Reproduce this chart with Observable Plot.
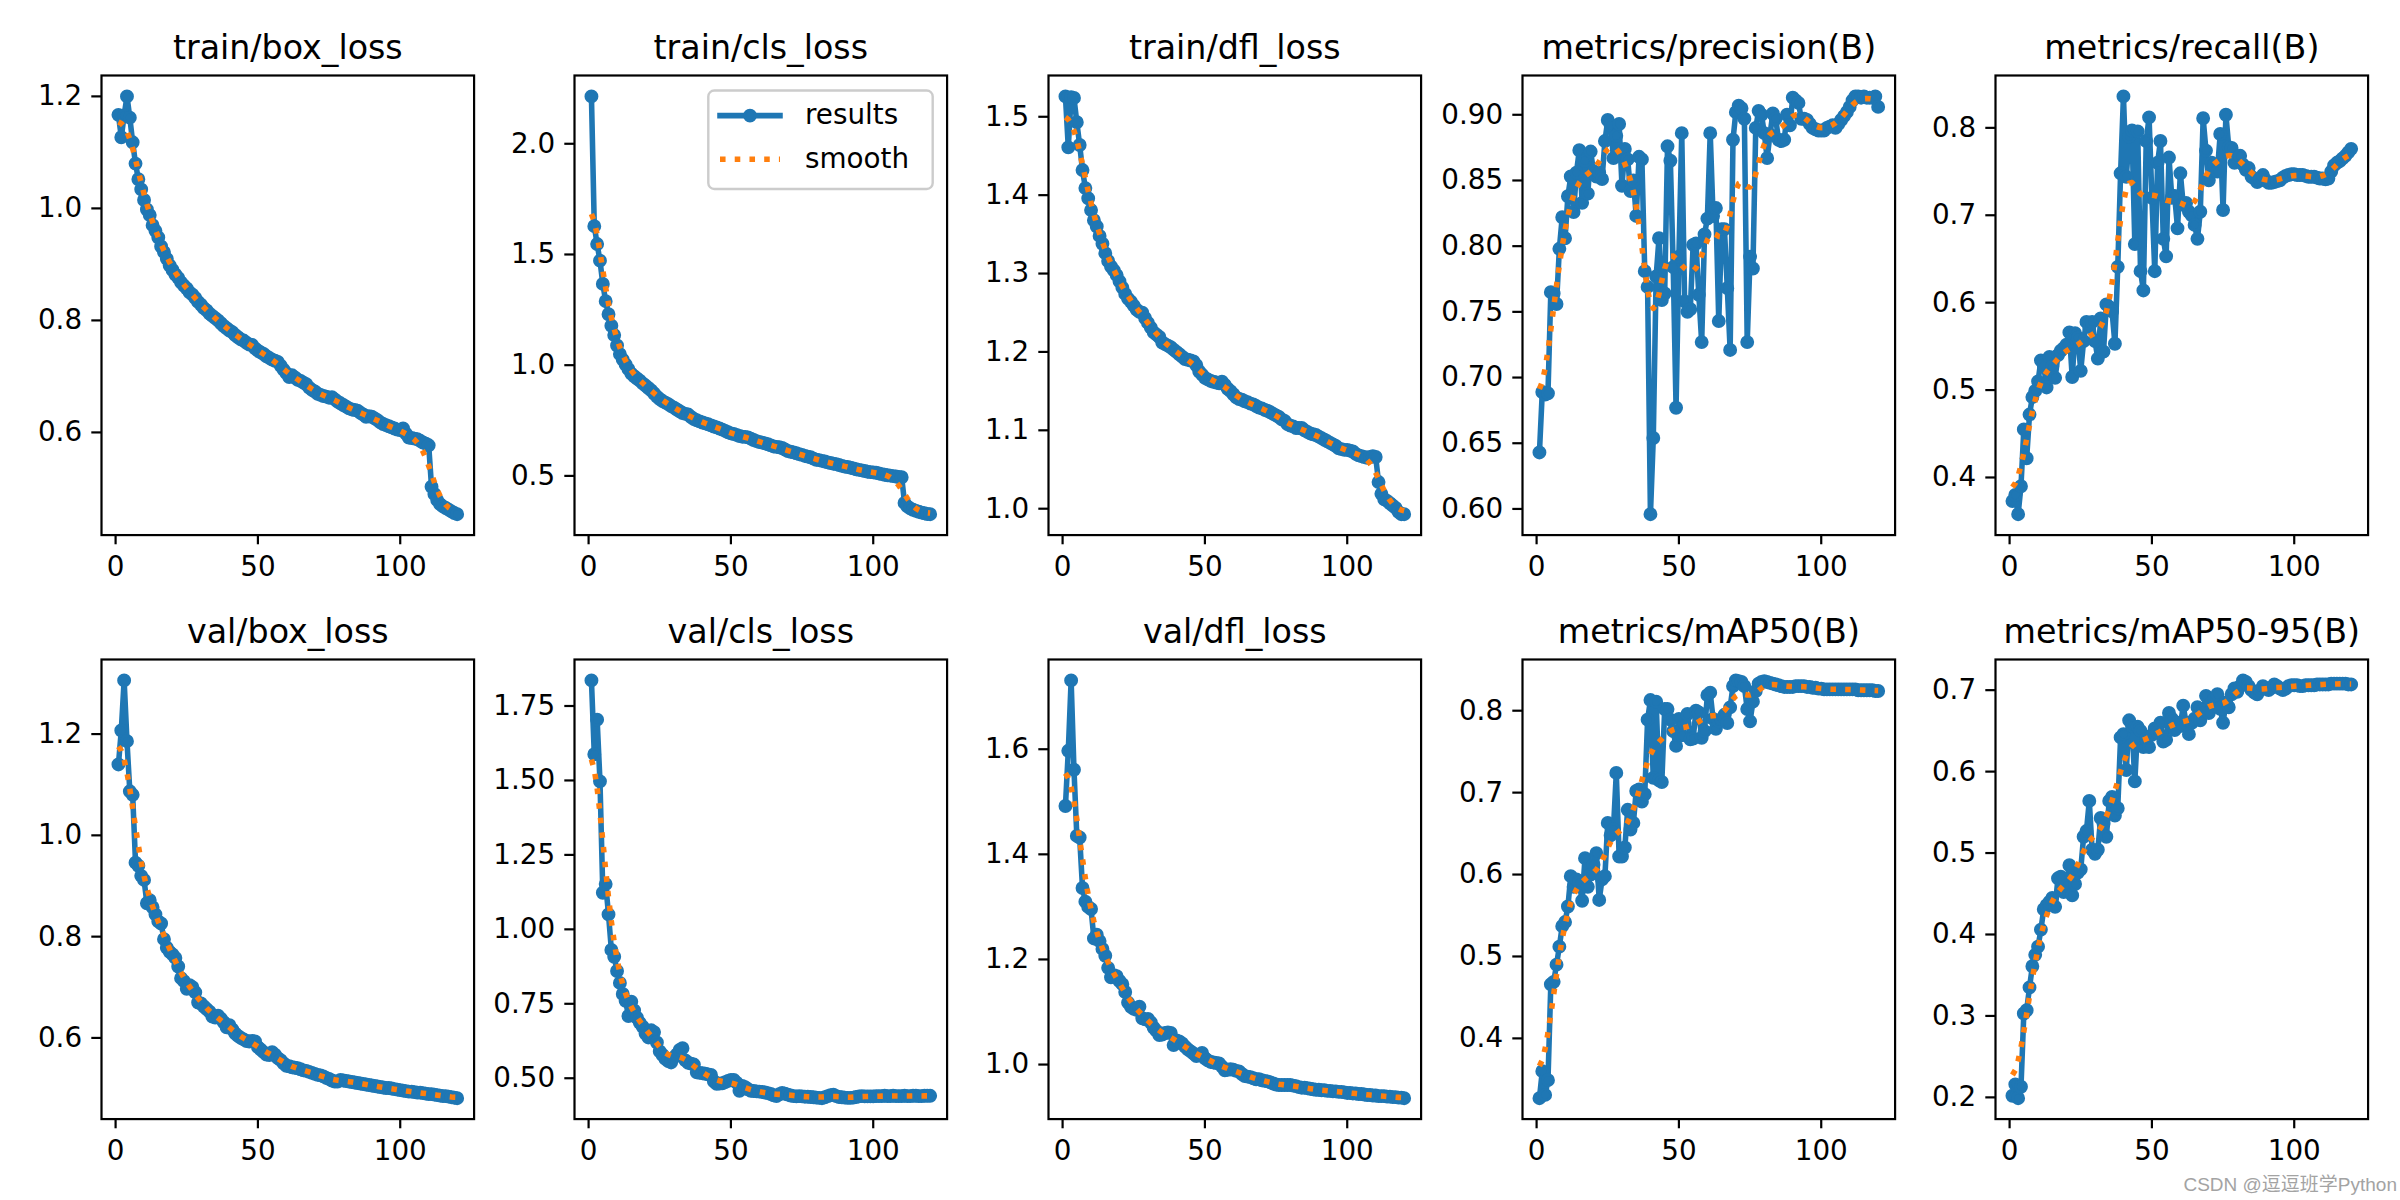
<!DOCTYPE html>
<html>
<head>
<meta charset="utf-8">
<script src="https://cdn.jsdelivr.net/npm/d3@7"></script>
<script src="https://cdn.jsdelivr.net/npm/@observablehq/plot@0.6"></script>
<style>
  html, body { margin: 0; padding: 0; background: #fff; }
  #fig { position: relative; width: 2400px; height: 1200px; overflow: hidden; background: #fff; font-family: "DejaVu Sans", sans-serif; }
  #fig svg { position: absolute; max-width: none; }
  #watermark { position: absolute; right: 3px; top: 1169px; font-family: "Liberation Sans", "Noto Sans CJK SC", sans-serif; font-size: 19px; color: #a3a3a3; white-space: nowrap; }
</style>
</head>
<body>
<div id="fig"></div>
<script>
// ---------------- data ----------------
const epochs = d3.range(1, 121);
const xTicks = [0, 50, 100];

const titles = ["train/box_loss", "train/cls_loss", "train/dfl_loss", "metrics/precision(B)", "metrics/recall(B)",
                "val/box_loss", "val/cls_loss", "val/dfl_loss", "metrics/mAP50(B)", "metrics/mAP50-95(B)"];

const trainBoxLoss = [
  1.167,1.127,1.166,1.200,1.162,1.118,1.080,1.052,1.034,1.015,
  0.998,0.988,0.970,0.960,0.948,0.932,0.922,0.910,0.898,0.890,
  0.882,0.876,0.868,0.862,0.857,0.850,0.846,0.840,0.833,0.828,
  0.822,0.818,0.812,0.808,0.804,0.800,0.795,0.790,0.786,0.782,
  0.779,0.774,0.770,0.766,0.764,0.760,0.757,0.756,0.750,0.746,
  0.743,0.740,0.736,0.733,0.730,0.728,0.726,0.719,0.712,0.706,
  0.699,0.702,0.698,0.694,0.692,0.689,0.686,0.680,0.676,0.673,
  0.669,0.667,0.665,0.664,0.662,0.663,0.659,0.655,0.652,0.649,
  0.646,0.643,0.641,0.640,0.639,0.635,0.632,0.628,0.629,0.628,
  0.625,0.622,0.618,0.615,0.613,0.611,0.609,0.607,0.605,0.604,
  0.607,0.598,0.591,0.590,0.589,0.588,0.585,0.582,0.580,0.577,
  0.503,0.490,0.479,0.472,0.468,0.465,0.462,0.459,0.456,0.454];

const trainClsLoss = [
  2.214,1.628,1.547,1.472,1.367,1.289,1.230,1.178,1.136,1.089,
  1.050,1.025,1.003,0.982,0.962,0.950,0.940,0.930,0.918,0.908,
  0.897,0.886,0.872,0.858,0.847,0.838,0.831,0.824,0.815,0.808,
  0.800,0.792,0.784,0.780,0.777,0.766,0.757,0.751,0.746,0.741,
  0.737,0.733,0.728,0.723,0.719,0.714,0.709,0.703,0.697,0.692,
  0.689,0.685,0.680,0.677,0.676,0.674,0.668,0.662,0.657,0.653,
  0.650,0.647,0.643,0.638,0.633,0.631,0.629,0.626,0.619,0.612,
  0.609,0.606,0.602,0.598,0.595,0.590,0.587,0.584,0.578,0.573,
  0.571,0.568,0.565,0.561,0.558,0.555,0.553,0.549,0.545,0.542,
  0.540,0.537,0.534,0.530,0.527,0.525,0.522,0.519,0.517,0.516,
  0.514,0.511,0.508,0.505,0.503,0.501,0.499,0.497,0.495,0.494,
  0.378,0.362,0.353,0.347,0.342,0.338,0.334,0.331,0.328,0.327];

const trainDflLoss = [
  1.526,1.461,1.525,1.524,1.493,1.464,1.432,1.409,1.396,1.381,
  1.368,1.360,1.348,1.338,1.326,1.316,1.309,1.304,1.298,1.290,
  1.282,1.274,1.268,1.264,1.259,1.254,1.251,1.250,1.243,1.237,
  1.231,1.225,1.222,1.219,1.212,1.210,1.208,1.206,1.203,1.200,
  1.197,1.194,1.191,1.190,1.189,1.188,1.183,1.175,1.171,1.167,
  1.165,1.163,1.162,1.161,1.160,1.162,1.158,1.153,1.150,1.146,
  1.142,1.140,1.139,1.137,1.136,1.134,1.133,1.131,1.129,1.128,
  1.126,1.125,1.123,1.121,1.119,1.117,1.114,1.112,1.108,1.106,
  1.105,1.103,1.103,1.103,1.100,1.098,1.096,1.095,1.094,1.092,
  1.090,1.088,1.086,1.084,1.082,1.080,1.077,1.076,1.075,1.075,
  1.074,1.073,1.070,1.068,1.067,1.066,1.065,1.066,1.067,1.066,
  1.034,1.019,1.012,1.010,1.007,1.004,1.001,0.996,0.993,0.993];

const precision = [
  0.643,0.689,0.687,0.688,0.765,0.764,0.756,0.798,0.822,0.806,
  0.838,0.853,0.826,0.856,0.873,0.833,0.865,0.840,0.872,0.857,
  0.853,0.856,0.851,0.880,0.896,0.892,0.867,0.884,0.893,0.846,
  0.874,0.866,0.842,0.850,0.823,0.868,0.866,0.781,0.769,0.596,
  0.654,0.777,0.806,0.759,0.764,0.876,0.865,0.784,0.677,0.792,
  0.886,0.758,0.750,0.752,0.801,0.802,0.763,0.727,0.809,0.821,
  0.886,0.823,0.829,0.743,0.813,0.813,0.768,0.721,0.881,0.902,
  0.907,0.905,0.897,0.727,0.792,0.783,0.890,0.903,0.900,0.886,
  0.867,0.885,0.901,0.897,0.881,0.880,0.881,0.900,0.892,0.913,
  0.911,0.909,0.897,0.897,0.896,0.893,0.890,0.889,0.888,0.888,
  0.888,0.890,0.891,0.892,0.890,0.893,0.896,0.899,0.902,0.906,
  0.911,0.914,0.914,0.913,0.914,0.913,0.913,0.913,0.914,0.906];

const recall = [
  0.373,0.380,0.358,0.390,0.455,0.422,0.472,0.492,0.499,0.510,
  0.534,0.528,0.503,0.538,0.527,0.514,0.540,0.545,0.548,0.552,
  0.566,0.515,0.565,0.560,0.522,0.556,0.578,0.572,0.578,0.556,
  0.536,0.582,0.544,0.598,0.595,0.590,0.553,0.641,0.748,0.836,
  0.744,0.790,0.797,0.667,0.796,0.636,0.614,0.785,0.812,0.720,
  0.636,0.760,0.785,0.673,0.653,0.766,0.720,0.722,0.685,0.748,
  0.712,0.714,0.704,0.700,0.689,0.673,0.704,0.811,0.774,0.740,
  0.760,0.758,0.750,0.793,0.706,0.815,0.778,0.777,0.760,0.766,
  0.768,0.758,0.752,0.754,0.744,0.742,0.738,0.740,0.746,0.740,
  0.737,0.737,0.738,0.739,0.740,0.743,0.745,0.746,0.747,0.747,
  0.746,0.746,0.746,0.745,0.744,0.744,0.744,0.743,0.742,0.742,
  0.741,0.742,0.750,0.757,0.760,0.762,0.765,0.768,0.772,0.776];

const valBoxLoss = [
  1.140,1.207,1.306,1.186,1.087,1.080,0.946,0.940,0.920,0.912,
  0.866,0.872,0.858,0.844,0.830,0.826,0.795,0.778,0.770,0.765,
  0.758,0.741,0.718,0.712,0.697,0.704,0.700,0.690,0.670,0.668,
  0.662,0.657,0.652,0.642,0.640,0.644,0.638,0.631,0.621,0.625,
  0.617,0.609,0.604,0.600,0.597,0.594,0.593,0.594,0.593,0.582,
  0.577,0.572,0.567,0.566,0.572,0.567,0.560,0.556,0.550,0.545,
  0.544,0.542,0.541,0.540,0.538,0.536,0.535,0.533,0.531,0.529,
  0.527,0.526,0.524,0.521,0.519,0.516,0.514,0.514,0.517,0.516,
  0.515,0.514,0.513,0.512,0.511,0.510,0.509,0.508,0.507,0.506,
  0.505,0.504,0.503,0.502,0.501,0.501,0.500,0.499,0.498,0.497,
  0.496,0.495,0.494,0.494,0.493,0.492,0.492,0.491,0.490,0.489,
  0.489,0.488,0.487,0.486,0.485,0.485,0.484,0.483,0.482,0.481];

const valClsLoss = [
  1.836,1.588,1.704,1.497,1.123,1.152,1.050,0.931,0.908,0.860,
  0.820,0.783,0.760,0.709,0.757,0.728,0.703,0.686,0.673,0.650,
  0.637,0.661,0.655,0.620,0.590,0.578,0.565,0.558,0.553,0.570,
  0.580,0.595,0.601,0.560,0.552,0.549,0.546,0.520,0.518,0.517,
  0.515,0.513,0.511,0.490,0.481,0.482,0.483,0.487,0.491,0.494,
  0.494,0.485,0.458,0.474,0.470,0.463,0.458,0.457,0.456,0.455,
  0.454,0.452,0.450,0.447,0.443,0.440,0.446,0.451,0.448,0.445,
  0.442,0.440,0.439,0.440,0.439,0.438,0.438,0.437,0.436,0.435,
  0.434,0.433,0.436,0.440,0.443,0.445,0.440,0.437,0.436,0.435,
  0.434,0.434,0.435,0.437,0.439,0.440,0.439,0.439,0.439,0.439,
  0.440,0.440,0.440,0.441,0.440,0.440,0.441,0.440,0.440,0.440,
  0.441,0.440,0.440,0.441,0.441,0.440,0.440,0.441,0.441,0.441];

const valDflLoss = [
  1.492,1.597,1.731,1.561,1.435,1.432,1.336,1.310,1.300,1.296,
  1.240,1.247,1.235,1.220,1.207,1.184,1.166,1.170,1.168,1.159,
  1.153,1.138,1.118,1.110,1.106,1.104,1.110,1.088,1.086,1.087,
  1.080,1.070,1.064,1.056,1.057,1.060,1.061,1.060,1.037,1.046,
  1.044,1.040,1.034,1.029,1.025,1.021,1.016,1.018,1.022,1.012,
  1.008,1.005,1.004,1.003,1.002,0.996,0.989,0.990,0.991,0.990,
  0.988,0.987,0.982,0.978,0.977,0.976,0.974,0.972,0.972,0.970,
  0.969,0.968,0.966,0.964,0.962,0.961,0.961,0.961,0.961,0.961,
  0.960,0.959,0.957,0.956,0.956,0.955,0.954,0.953,0.952,0.952,
  0.951,0.951,0.950,0.950,0.949,0.949,0.948,0.948,0.947,0.946,
  0.946,0.945,0.945,0.944,0.944,0.943,0.942,0.942,0.941,0.941,
  0.940,0.940,0.940,0.939,0.939,0.938,0.938,0.937,0.937,0.936];

const mAP50 = [
  0.327,0.360,0.331,0.349,0.466,0.469,0.490,0.512,0.537,0.542,
  0.561,0.598,0.585,0.594,0.590,0.568,0.620,0.585,0.600,0.612,
  0.626,0.569,0.594,0.598,0.663,0.648,0.655,0.724,0.622,0.622,
  0.633,0.679,0.655,0.663,0.702,0.704,0.689,0.698,0.789,0.813,
  0.718,0.811,0.715,0.713,0.802,0.802,0.789,0.775,0.757,0.790,
  0.770,0.785,0.796,0.765,0.766,0.800,0.798,0.767,0.775,0.819,
  0.822,0.790,0.778,0.787,0.790,0.795,0.785,0.804,0.830,0.837,
  0.836,0.835,0.830,0.802,0.787,0.811,0.824,0.833,0.835,0.836,
  0.835,0.834,0.833,0.832,0.831,0.830,0.829,0.829,0.829,0.829,
  0.830,0.830,0.830,0.830,0.829,0.829,0.828,0.828,0.827,0.827,
  0.826,0.826,0.826,0.826,0.826,0.826,0.826,0.826,0.826,0.826,
  0.826,0.826,0.825,0.825,0.825,0.825,0.825,0.825,0.824,0.824];

const mAP5095 = [
  0.202,0.216,0.199,0.213,0.303,0.307,0.335,0.361,0.375,0.385,
  0.406,0.431,0.436,0.440,0.445,0.434,0.469,0.471,0.452,0.460,
  0.485,0.448,0.462,0.476,0.480,0.520,0.527,0.564,0.504,0.499,
  0.504,0.543,0.536,0.520,0.564,0.569,0.546,0.555,0.642,0.646,
  0.602,0.663,0.656,0.588,0.655,0.650,0.630,0.640,0.630,0.645,
  0.653,0.648,0.660,0.637,0.639,0.672,0.665,0.651,0.660,0.656,
  0.681,0.660,0.646,0.660,0.665,0.679,0.663,0.675,0.693,0.672,
  0.685,0.690,0.695,0.677,0.660,0.685,0.679,0.695,0.702,0.698,
  0.705,0.712,0.710,0.705,0.700,0.697,0.695,0.700,0.705,0.702,
  0.700,0.703,0.707,0.705,0.702,0.700,0.702,0.705,0.706,0.706,
  0.706,0.705,0.705,0.706,0.706,0.706,0.706,0.707,0.707,0.707,
  0.707,0.707,0.708,0.708,0.708,0.708,0.708,0.708,0.707,0.707];

// y tick labels of each panel
const trainBoxTicks = [0.6, 0.8, 1.0, 1.2];
const trainClsTicks = [0.5, 1.0, 1.5, 2.0];
const trainDflTicks = [1.0, 1.1, 1.2, 1.3, 1.4, 1.5];
const precisionTicks = [0.60, 0.65, 0.70, 0.75, 0.80, 0.85, 0.90];
const recallTicks = [0.4, 0.5, 0.6, 0.7, 0.8];
const valBoxTicks = [0.6, 0.8, 1.0, 1.2];
const valClsTicks = [0.50, 0.75, 1.00, 1.25, 1.50, 1.75];
const valDflTicks = [1.0, 1.2, 1.4, 1.6];
const mAP50Ticks = [0.4, 0.5, 0.6, 0.7, 0.8];
const mAP5095Ticks = [0.2, 0.3, 0.4, 0.5, 0.6, 0.7];

const legendLabels = ["results", "smooth"];
const watermarkText = "CSDN @逗逗班学Python";

// ---------------- layout / style ----------------
const BLUE = "#1f77b4", ORANGE = "#ff7f0e";
const PW = 372.6, PH = 459.6;            // axes box size
const ML = 100, MR = 20, MT = 75, MB = 70; // svg margins around the axes box
const colLeft = c => 100.7 + c * 473.6;
const rowTop = [75, 659];
const FS = 27.8, TFS = 33.3;               // tick / title font size
const LW = 5.56;                           // 2pt line width

const panels = [
  {values: trainBoxLoss, ticks: trainBoxTicks, fmt: ".1f"},
  {values: trainClsLoss, ticks: trainClsTicks, fmt: ".1f"},
  {values: trainDflLoss, ticks: trainDflTicks, fmt: ".1f"},
  {values: precision, ticks: precisionTicks, fmt: ".2f"},
  {values: recall, ticks: recallTicks, fmt: ".1f"},
  {values: valBoxLoss, ticks: valBoxTicks, fmt: ".1f"},
  {values: valClsLoss, ticks: valClsTicks, fmt: ".2f"},
  {values: valDflLoss, ticks: valDflTicks, fmt: ".1f"},
  {values: mAP50, ticks: mAP50Ticks, fmt: ".1f"},
  {values: mAP5095, ticks: mAP5095Ticks, fmt: ".1f"}
].map((p, i) => ({...p, title: titles[i]}));

// gaussian_filter1d(sigma=3, mode="reflect") used for the "smooth" curve
function gaussianSmooth(V) {
  const sigma = 3, r = Math.floor(4 * sigma + 0.5), n = V.length;
  const w = d3.range(-r, r + 1).map(d => Math.exp(-d * d / (2 * sigma * sigma)));
  const s = d3.sum(w);
  return Array.from(V, (_, i) => {
    let acc = 0;
    for (let d = -r; d <= r; ++d) {
      let j = i + d;
      while (j < 0 || j >= n) j = j < 0 ? -j - 1 : 2 * n - j - 1;
      acc += w[d + r] * V[j];
    }
    return acc / s;
  });
}

const fig = document.getElementById("fig");
const [ex0, ex1] = d3.extent(epochs);
const xPad = (ex1 - ex0) * 0.05;

panels.forEach((p, i) => {
  const r = Math.floor(i / 5), c = i % 5;
  const data = epochs.map((e, k) => ({epoch: e, value: p.values[k]}));
  const [lo, hi] = d3.extent(p.values);
  const pad = (hi - lo) * 0.05;
  const svg = Plot.plot({
    width: ML + PW + MR,
    height: MT + PH + MB,
    marginLeft: ML, marginRight: MR, marginTop: MT, marginBottom: MB,
    x: {domain: [ex0 - xPad, ex1 + xPad]},
    y: {domain: [lo - pad, hi + pad]},
    style: {background: "transparent", fontFamily: "'DejaVu Sans', sans-serif", overflow: "visible", color: "black"},
    marks: [
      Plot.line(data, {x: "epoch", y: "value", stroke: BLUE, strokeWidth: LW, strokeLinejoin: "round"}),
      Plot.dot(data, {x: "epoch", y: "value", r: 5.56, fill: BLUE, stroke: BLUE, strokeWidth: 2.78}),
      Plot.line(data, Plot.mapY(V => gaussianSmooth(V), {x: "epoch", y: "value", stroke: ORANGE, strokeWidth: LW,
        strokeDasharray: "5.56 9.17", strokeLinecap: "butt"})),
      Plot.frame({stroke: "black", strokeWidth: 2.2}),
      Plot.axisX({ticks: xTicks, tickSize: 9.7, tickPadding: 11, fontSize: FS, strokeWidth: 2.2, label: null,
        tickFormat: d => String(d)}),
      Plot.axisY({ticks: p.ticks, tickSize: 9.7, tickPadding: 9.7, fontSize: FS, strokeWidth: 2.2, label: null,
        tickFormat: d3.format(p.fmt)}),
      Plot.text([p.title], {frameAnchor: "top", dy: -16.7, lineAnchor: "bottom", fontSize: TFS, fill: "black", text: d => d})
    ]
  });
  svg.style.left = (colLeft(c) - ML) + "px";
  svg.style.top = (rowTop[r] - MT) + "px";
  fig.appendChild(svg);
});

// legend of panel 2 (train/cls_loss), matplotlib "upper right"
{
  const lg = d3.create("svg").attr("width", 260).attr("height", 130)
    .style("left", "700px").style("top", "80px");
  lg.append("rect").attr("x", 8.3).attr("y", 10.5).attr("width", 224.4).attr("height", 98.5)
    .attr("rx", 6).attr("fill", "white").attr("fill-opacity", 0.8)
    .attr("stroke", "#cccccc").attr("stroke-width", 2.4);
  const y1 = 35.6, y2 = 79.3;
  lg.append("line").attr("x1", 20).attr("x2", 80).attr("y1", y1).attr("y2", y1)
    .attr("stroke", BLUE).attr("stroke-width", LW).attr("stroke-linecap", "square");
  lg.append("circle").attr("cx", 50).attr("cy", y1).attr("r", 5.56).attr("fill", BLUE)
    .attr("stroke", BLUE).attr("stroke-width", 2.78);
  lg.append("line").attr("x1", 20).attr("x2", 80).attr("y1", y2).attr("y2", y2)
    .attr("stroke", ORANGE).attr("stroke-width", LW).attr("stroke-dasharray", "5.56 9.17");
  lg.selectAll("text.lab").data(legendLabels).join("text").attr("class", "lab")
    .attr("x", 105).attr("y", (d, k) => (k ? y2 : y1) + 0.32 * FS)
    .attr("font-size", FS).attr("font-family", "'DejaVu Sans', sans-serif").attr("fill", "black")
    .text(d => d);
  fig.appendChild(lg.node());
}

// watermark
{
  const wm = document.createElement("div");
  wm.id = "watermark";
  wm.textContent = watermarkText;
  fig.appendChild(wm);
}
</script>
</body>
</html>
